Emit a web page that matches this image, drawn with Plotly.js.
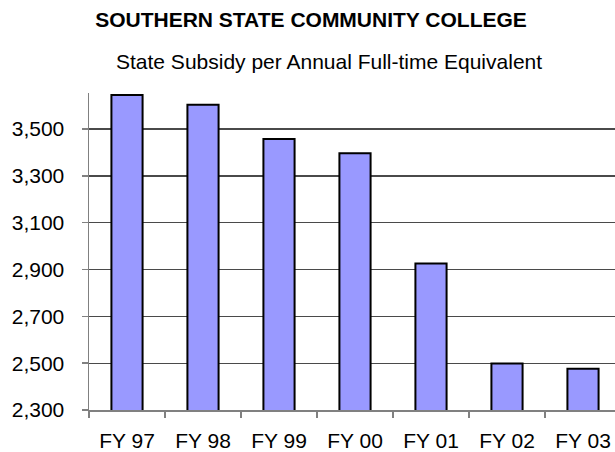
<!DOCTYPE html>
<html>
<head>
<meta charset="utf-8">
<script src="https://cdn.plot.ly/plotly-3.0.1.min.js"></script>
<style>
  html, body { margin: 0; padding: 0; background: #fff; }
  #chart { width: 615px; height: 452px; }
</style>
</head>
<body>
<div id="chart"></div>
<script>
const categories = ["FY 97", "FY 98", "FY 99", "FY 00", "FY 01", "FY 02", "FY 03"];
const subsidy = [3645, 3604, 3457, 3397, 2926, 2499, 2476];
const yTickValues = [2300, 2500, 2700, 2900, 3100, 3300, 3500];
const yTickLabels = ["2,300", "2,500", "2,700", "2,900", "3,100", "3,300", "3,500"];
const chartTitle = "SOUTHERN STATE COMMUNITY COLLEGE";
const chartSubtitle = "State Subsidy per Annual Full-time Equivalent";

const FONT = "Liberation Sans, Arial, sans-serif";

const trace = {
  type: "bar",
  x: categories,
  y: subsidy,
  width: 0.41,
  marker: { color: "#9999FF", line: { color: "#000000", width: 2 } },
  hoverinfo: "x+y"
};

const layout = {
  width: 615,
  height: 452,
  margin: { l: 89, r: 0, t: 93, b: 42, pad: 0 },
  paper_bgcolor: "#ffffff",
  plot_bgcolor: "#ffffff",
  showlegend: false,
  bargap: 0.59,
  title: {
    text: "<b>" + chartTitle + "</b>",
    font: { family: FONT, size: 21, color: "#000" },
    xref: "container", x: 311 / 615, xanchor: "center",
    yref: "container", y: 1 - 20 / 452, yanchor: "middle"
  },
  annotations: [{
    text: chartSubtitle,
    font: { family: FONT, size: 21, color: "#000" },
    xref: "paper", x: (329 - 89) / 526, xanchor: "center",
    yref: "paper", y: 1 + (93 - 62) / 317, yanchor: "middle",
    showarrow: false
  }],
  xaxis: {
    type: "category",
    range: [-0.5, -0.5 + 526 / 76],
    showline: true, linecolor: "#808080", linewidth: 1.5,
    ticks: "outside", tickson: "boundaries", ticklen: 6, tickcolor: "#808080", tickwidth: 1.5,
    showgrid: false, zeroline: false,
    tickfont: { family: FONT, size: 21, color: "#000" },
    ticklabelstandoff: 11,
    fixedrange: true
  },
  yaxis: {
    range: [2300, 3654],
    tickvals: yTickValues,
    ticktext: yTickLabels,
    showline: true, linecolor: "#808080", linewidth: 1.5,
    ticks: "outside", ticklen: 6, tickcolor: "#808080", tickwidth: 1.5,
    showgrid: true, gridcolor: "#4a4a4a", gridwidth: 1.3,
    zeroline: false,
    tickfont: { family: FONT, size: 21, color: "#000" },
    ticklabelstandoff: 13,
    fixedrange: true
  }
};

Plotly.newPlot("chart", [trace], layout, { displayModeBar: false, staticPlot: true });
</script>
</body>
</html>
